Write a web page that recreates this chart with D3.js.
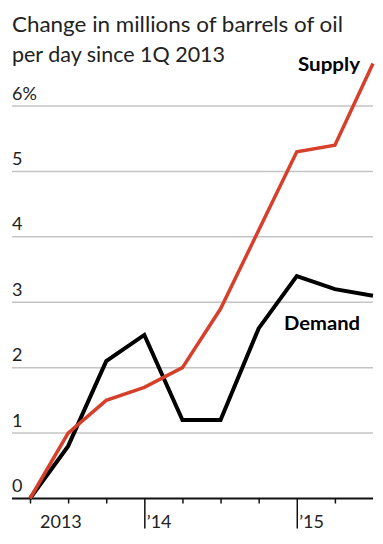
<!DOCTYPE html>
<html>
<head>
<meta charset="utf-8">
<script src="https://cdn.jsdelivr.net/npm/d3@7"></script>
<style>
  html, body { margin: 0; padding: 0; background: #fff; }
  svg { display: block; }
  text { font-family: Lato, "Open Sans", "Noto Sans", sans-serif; }
</style>
</head>
<body>
<svg id="chart" width="383" height="544"></svg>
<script>
// ---- data ----
const quarters = ["1Q13","2Q13","3Q13","4Q13","1Q14","2Q14","3Q14","4Q14","1Q15","2Q15"];
const supply   = [0, 1.0, 1.5, 1.7, 2.0, 2.9, 4.1, 5.3, 5.4, 6.65];
const demand   = [0, 0.8, 2.1, 2.5, 1.2, 1.2, 2.6, 3.4, 3.2, 3.1];
const yTicks   = [0, 1, 2, 3, 4, 5, 6];
const yTickLabels = ["0", "1", "2", "3", "4", "5", "6%"];
const xTickQuarters = ["1Q13","2Q13","3Q13","4Q13","1Q14","2Q14","3Q14","4Q14","1Q15"];
const majorTicks = ["4Q13", "4Q14"];
const xLabels = [{q: "1Q13", text: "2013"}, {q: "4Q13", text: "\u201914"}, {q: "4Q14", text: "\u201915"}];
const titleLines = ["Change in millions of barrels of oil", "per day since 1Q 2013"];

// ---- layout ----
const svg = d3.select("#chart");
const left = 12, right = 373;
const x = d3.scalePoint().domain(quarters).range([30, 373]);
const y = d3.scaleLinear().domain([0, 6]).range([498.5, 106]);

// title
const titleWidths = [331, 213];
titleLines.forEach((t, i) => {
  svg.append("text")
    .attr("x", left).attr("y", 32 + i * 30)
    .attr("font-size", 21).attr("fill", "#222")
    .attr("textLength", titleWidths[i]).attr("lengthAdjust", "spacingAndGlyphs")
    .text(t);
});

// gridlines
svg.append("g").selectAll("line").data(yTicks.filter(d => d > 0)).join("line")
  .attr("x1", left).attr("x2", right)
  .attr("y1", d => y(d)).attr("y2", d => y(d))
  .attr("stroke", "#c4c4c4").attr("stroke-width", 1.5);

// y labels
svg.append("g").selectAll("text").data(yTicks).join("text")
  .attr("x", left).attr("y", d => y(d) - 6.5)
  .attr("font-size", 18).attr("fill", "#222")
  .text((d, i) => yTickLabels[i]);

// x axis via d3.axisBottom
const xAxis = d3.axisBottom(x).tickValues(xTickQuarters)
  .tickSize(5).tickSizeOuter(0).tickFormat("");
const gx = svg.append("g").attr("transform", `translate(0,${y(0)})`).call(xAxis);
gx.select(".domain").remove();
gx.selectAll(".tick line").attr("stroke", "#111").attr("stroke-width", 1.5)
  .attr("y2", d => majorTicks.includes(d) ? 30 : 5);
svg.append("line").attr("x1", left).attr("x2", right)
  .attr("y1", y(0)).attr("y2", y(0)).attr("stroke", "#111").attr("stroke-width", 2);

// x labels
svg.append("g").selectAll("text").data(xLabels).join("text")
  .attr("x", d => x(d.q) + (d.text === "2013" ? 10 : 2.5))
  .attr("y", 528)
  .attr("font-size", 18).attr("fill", "#222")
  .text(d => d.text);

// lines
const line = d3.line().x((d, i) => x(quarters[i])).y(d => y(d));
svg.append("path").datum(demand).attr("d", line)
  .attr("fill", "none").attr("stroke", "#000").attr("stroke-width", 4)
  .attr("stroke-linejoin", "miter");
svg.append("path").datum(supply).attr("d", line)
  .attr("fill", "none").attr("stroke", "#d6402b").attr("stroke-width", 3.5)
  .attr("stroke-linejoin", "miter");

// series labels
svg.append("text").attr("x", 360).attr("y", 71).attr("text-anchor", "end")
  .attr("font-size", 19).attr("font-weight", "bold").attr("fill", "#000")
  .attr("textLength", 62).attr("lengthAdjust", "spacingAndGlyphs")
  .text("Supply");
svg.append("text").attr("x", 360).attr("y", 330).attr("text-anchor", "end")
  .attr("font-size", 19).attr("font-weight", "bold").attr("fill", "#000")
  .attr("textLength", 76).attr("lengthAdjust", "spacingAndGlyphs")
  .text("Demand");
</script>
</body>
</html>
